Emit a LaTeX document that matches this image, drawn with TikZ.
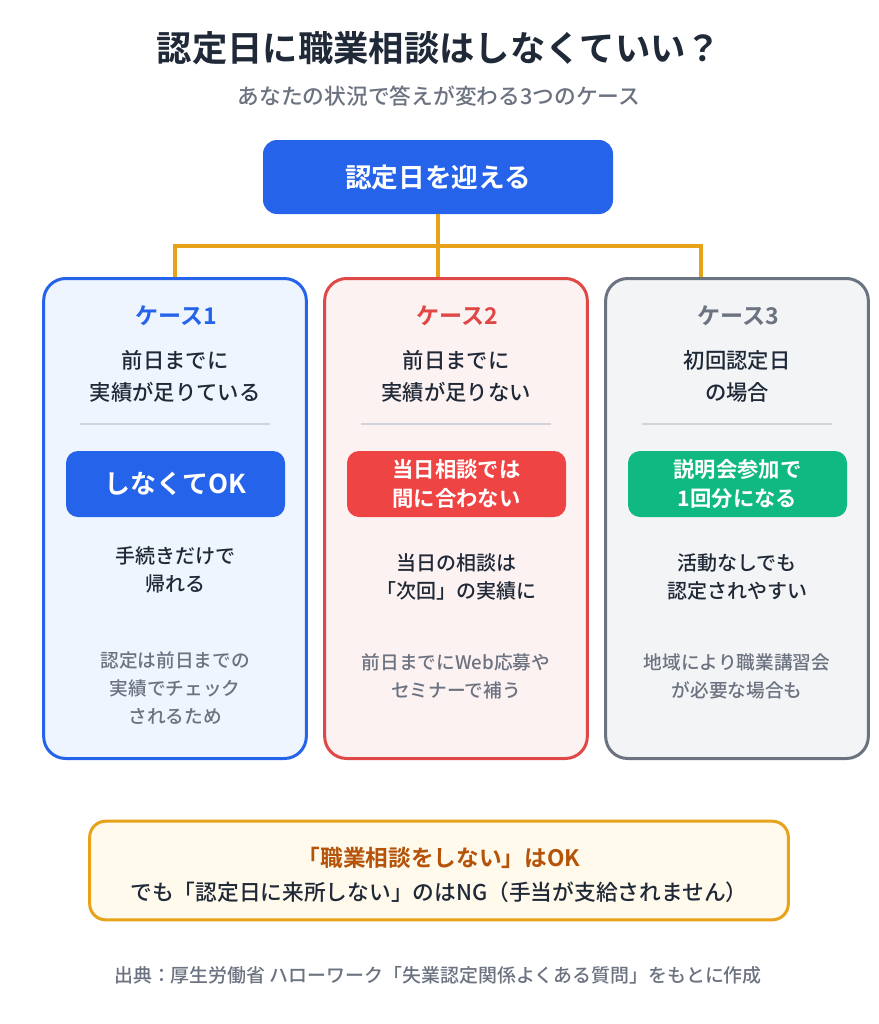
\documentclass[tikz,border=0pt]{standalone}
\usepackage{fontspec}
\setmainfont{Noto Sans CJK JP}[BoldFont={Noto Sans CJK JP Bold}]
\newfontfamily\jpmed{Noto Sans CJK JP Medium}
\newcommand\fsz[2]{\fontsize{#1}{#2}\selectfont}
\definecolor{ink}{HTML}{1F2937}
\definecolor{sub}{HTML}{6B7280}
\definecolor{blue}{HTML}{2563EB}
\definecolor{redc}{HTML}{E04848}
\definecolor{redb}{HTML}{EF4444}
\definecolor{greenb}{HTML}{10B981}
\definecolor{grayc}{HTML}{6B7280}
\definecolor{orange}{HTML}{E8A21A}
\definecolor{fill1}{HTML}{EFF5FE}
\definecolor{fill2}{HTML}{FDF2F2}
\definecolor{fill3}{HTML}{F3F4F6}
\definecolor{fillb}{HTML}{FFFAEB}
\definecolor{brown}{HTML}{B45309}
\definecolor{divc}{HTML}{D1D5DB}
\begin{document}
\begin{tikzpicture}[x=0.75pt,y=-0.75pt,
  txt/.style={inner sep=0pt, align=center, anchor=center},
  card/.style={draw, line width=2.25pt, rounded corners=16.5pt, minimum width=197pt, minimum height=360pt, inner sep=0pt},
  badge/.style={rounded corners=9pt, minimum width=164.25pt, minimum height=49.5pt, inner sep=0pt, text=white, align=center, font=\bfseries},
  head/.style={txt, font=\fsz{17.3pt}{20pt}\bfseries},
  cond/.style={txt, text=ink, font=\fsz{16pt}{24pt}\jpmed},
  res/.style={txt, text=ink, font=\fsz{15pt}{21pt}\jpmed},
  note/.style={txt, text=sub, font=\fsz{14pt}{21pt}\jpmed},
  divline/.style={draw=divc, line width=0.9pt},
  conn/.style={draw=orange, line width=3pt}
]
\useasboundingbox[fill=white] (0,0) rectangle (878,1024);

% title
\node[txt, text=ink, font=\fsz{26.5pt}{30pt}\bfseries] (title) at (439,48) {認定日に職業相談はしなくていい？};
\node[txt, text=sub, font=\fsz{16.3pt}{20pt}\jpmed] (subtitle) at (439,96) {あなたの状況で答えが変わる3つのケース};

% top box
\node[fill=blue, rounded corners=10.5pt, minimum width=262.5pt, minimum height=55.5pt, inner sep=0pt, text=white, font=\fsz{20pt}{24pt}\bfseries] (top) at (438,177) {認定日を迎える};

% cards
\node[card, draw=blue, fill=fill1] (c1) at (175,518.5) {};
\node[card, draw=redc, fill=fill2] (c2) at (456,518.5) {};
\node[card, draw=grayc, fill=fill3] (c3) at (737,518.5) {};

% connectors
\coordinate (j1) at (175,246);
\coordinate (j3) at (701,246);
\coordinate (e3) at (701,277);
\draw[conn] (top.south) -- (top.south |- c2.north);
\draw[conn, line join=miter] (c1.north) -- (j1) -- (j3) -- (e3);

% headers
\node[head, text=blue] (h1) at (176,316) {ケース1};
\node[head, text=redc] (h2) at (457,316) {ケース2};
\node[head, text=grayc] (h3) at (738,316) {ケース3};

% conditions
\node[cond] (k1) at (175,376) {前日までに\\実績が足りている};
\node[cond] (k2) at (456,376) {前日までに\\実績が足りない};
\node[cond] (k3) at (737,376) {初回認定日\\の場合};

% dividers
\coordinate (d1a) at (80,424); \coordinate (d1b) at (270,424);
\coordinate (d2a) at (361,424); \coordinate (d2b) at (551,424);
\coordinate (d3a) at (642,424); \coordinate (d3b) at (832,424);
\draw[divline] (d1a) -- (d1b);
\draw[divline] (d2a) -- (d2b);
\draw[divline] (d3a) -- (d3b);

% badges
\node[badge, fill=blue, font=\fsz{19.5pt}{24pt}\bfseries] (b1) at (175.5,484) {しなくてOK};
\node[badge, fill=redb, font=\fsz{16pt}{21.75pt}\bfseries] (b2) at (456.5,484) {当日相談では\\間に合わない};
\node[badge, fill=greenb, font=\fsz{16pt}{21.75pt}\bfseries] (b3) at (737.5,484) {説明会参加で\\1回分になる};

% results
\node[res] (r1) at (175,570) {手続きだけで\\帰れる};
\node[res] (r2) at (456,577) {当日の相談は\\「次回」の実績に};
\node[res] (r3) at (737,577) {活動なしでも\\認定されやすい};

% notes
\node[note] (n1) at (175,688) {認定は前日までの\\実績でチェック\\されるため};
\node[note] (n2) at (456,676) {前日までにWeb応募や\\セミナーで補う};
\node[note] (n3) at (737,676) {地域により職業講習会\\が必要な場合も};

% bottom box
\node[draw=orange, line width=2.25pt, fill=fillb, rounded corners=12pt, minimum width=524pt, minimum height=74pt, inner sep=0pt] (bottom) at (439,870.5) {};
\node[txt, text=brown, font=\fsz{17pt}{20pt}\bfseries] (bl1) at (439,858) {「職業相談をしない」はOK};
\node[txt, text=ink, font=\fsz{16.3pt}{20pt}\jpmed] (bl2) at (439,892) {でも「認定日に来所しない」のはNG（手当が支給されません）};

% source
\node[txt, text=sub, font=\fsz{14.2pt}{18pt}\jpmed] (src) at (438,975) {出典：厚生労働省 ハローワーク「失業認定関係よくある質問」をもとに作成};
\end{tikzpicture}
\end{document}
